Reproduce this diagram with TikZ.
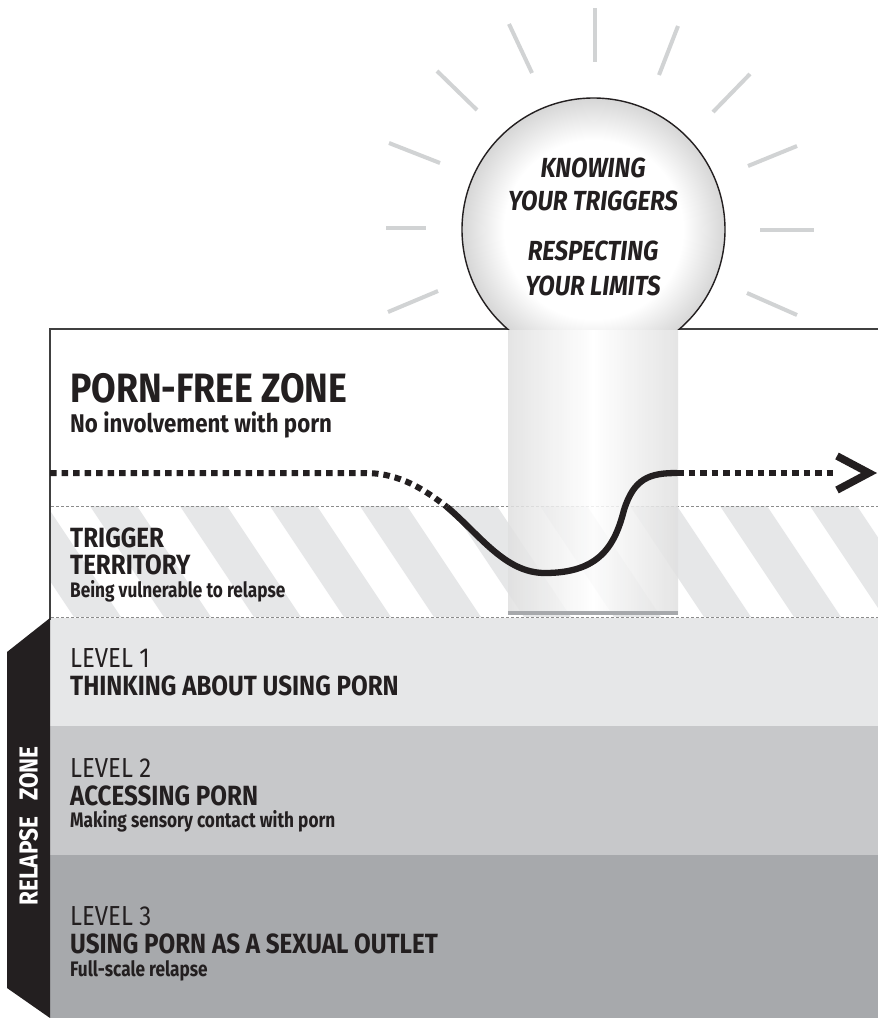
\documentclass[tikz,border=0pt]{standalone}
\usepackage{fontspec}
\newfontfamily\cf[FakeStretch=0.87]{Fira Sans}
\newfontfamily\cfs[FakeStretch=0.82]{Fira Sans}
\usetikzlibrary{calc}
\definecolor{ink}{HTML}{231F20}
\definecolor{bandA}{HTML}{E6E7E8}
\definecolor{bandB}{HTML}{C7C8CA}
\definecolor{bandC}{HTML}{A7A9AC}
\definecolor{stripe}{HTML}{E6E7E8}
\definecolor{ray}{HTML}{D1D3D4}
\definecolor{frame}{HTML}{404040}
\pgfdeclareradialshading{bulbshade}{\pgfpoint{0bp}{0bp}}{color(0bp)=(white); color(17bp)=(white); color(25bp)=(black!16); color(50bp)=(black!16)}
\begin{document}
\begin{tikzpicture}[x=1pt,y=-1pt,
  raystyle/.style={draw=ray, line width=4pt},
  lbl/.style={anchor=base west, inner sep=0pt, text=ink},
  bighead/.style={lbl, font=\cf\bfseries\fontsize{41}{41}\selectfont},
  head/.style={lbl, font=\cf\bfseries\fontsize{27.8}{28}\selectfont},
  sub/.style={lbl, font=\cfs\bfseries\fontsize{21}{22}\selectfont},
  bigsub/.style={lbl, font=\cf\bfseries\fontsize{25.6}{26}\selectfont},
  levelf/.style={lbl, font=\cf\fontsize{27.5}{28}\selectfont},
  bulbtxt/.style={anchor=base, inner sep=0pt, text=ink, font=\cf\bfseries\itshape\fontsize{27.6}{28}\selectfont},
  dotline/.style={draw=ink, line width=6pt, dash pattern=on 6.5pt off 5pt},
  pathline/.style={draw=ink, line width=6.3pt}
]
\useasboundingbox (0,0) rectangle (878,1018);
\fill[white] (0,0) rectangle (878,1018);
% stripes in trigger territory
\begin{scope}
\clip (51,506) rectangle (878,617);
\foreach \k in {-2,...,10}{
  \fill[stripe] ({90*\k},506) -- ({90*\k+47},506) -- ({90*\k+121},617) -- ({90*\k+74},617) -- cycle;
}
\end{scope}
\draw[black!45, line width=0.7pt, dash pattern=on 3pt off 2pt] (51,506) -- (878,506);
% bands
\fill[bandA] (50,618) rectangle (878,726);
\fill[bandB] (50,726) rectangle (878,855);
\fill[bandC] (50,855) rectangle (878,1018);
\draw[black!45, line width=0.7pt, dash pattern=on 3pt off 2pt] (51,617) -- (878,617);
% frame
\draw[frame, line width=1.6pt] (50,620) -- (50,329) -- (878,329);
% pillar
\shade[left color=black!12, right color=black!12, middle color=white, fill opacity=0.85] (508,329) rectangle (678,614);
\fill[bandC] (508,611) rectangle (678,615);
% rays
\draw[raystyle] (389,143) -- (440,163);
\draw[raystyle] (437,71) -- (477,110);
\draw[raystyle] (509,24) -- (532,73);
\draw[raystyle] (595,8) -- (595,62);
\draw[raystyle] (678,26) -- (659,75);
\draw[raystyle] (750,74) -- (713,112);
\draw[raystyle] (797,146) -- (748,166);
\draw[raystyle] (760,230) -- (814,230);
\draw[raystyle] (747,293) -- (797,315);
\draw[raystyle] (386,228) -- (426,228);
\draw[raystyle] (388,312) -- (438,291);
% bulb
\begin{scope}
\clip (400,0) rectangle (800,329);
\shade[shading=bulbshade] (593.5,229.5) circle (131.5);
\draw[ink, line width=1.4pt] (593.5,229.5) circle (131.5);
\end{scope}
\node[bulbtxt] (k1) at (593,177) {KNOWING};
\node[bulbtxt] (k2) at (593,210) {YOUR TRIGGERS};
\node[bulbtxt] (k3) at (593,260) {RESPECTING};
\node[bulbtxt] (k4) at (593,295) {YOUR LIMITS};
% relapse tab
\fill[ink] (50,618) -- (7,652) -- (7,988) -- (50,1018) -- cycle;
\node[rotate=90, inner sep=0pt, text=white, font=\cf\bfseries\fontsize{26}{26}\selectfont] (rz) at (28.5,826) {RELAPSE\hspace{16pt}ZONE};
% texts
\node[bighead] (pf) at (70,402) {PORN-FREE ZONE};
\node[bigsub] (pfs) at (70,432) {No involvement with porn};
\node[head] (tt1) at (70,547) {TRIGGER};
\node[head] (tt2) at (70,574) {TERRITORY};
\node[sub] (tts) at (70,597) {Being vulnerable to relapse};
\node[levelf] (l1) at (70,667) {LEVEL 1};
\node[head] (l1h) at (70,695) {THINKING ABOUT USING PORN};
\node[levelf] (l2) at (70,777) {LEVEL 2};
\node[head] (l2h) at (70,805) {ACCESSING PORN};
\node[sub] (l2s) at (70,827) {Making sensory contact with porn};
\node[levelf] (l3) at (70,925) {LEVEL 3};
\node[head] (l3h) at (70,953) {USING PORN AS A SEXUAL OUTLET};
\node[sub] (l3s) at (70,976) {Full-scale relapse};
% path
\coordinate (p0) at (50,473);
\coordinate (p1) at (365,473);
\coordinate (p2) at (447,507);
\coordinate (p3) at (545,573);
\coordinate (p4) at (677,473);
\coordinate (p5) at (836,473);
\coordinate (tip) at (872,473);
\draw[dotline] (p0) -- (p1) .. controls (400,473) and (425,490) .. (p2);
\draw[pathline] (p2) .. controls (480,535) and (505,573) .. (p3) .. controls (600,573) and (615,545) .. (624,510) .. controls (634,478) and (650,473) .. (p4);
\draw[dotline] (p4) -- (p5);
\draw[ink, line width=7.5pt, miter limit=10] ($(tip)+(-35,-17)$) -- ($(tip)+(-3,0)$) -- ($(tip)+(-35,17)$);
\end{tikzpicture}
\end{document}
